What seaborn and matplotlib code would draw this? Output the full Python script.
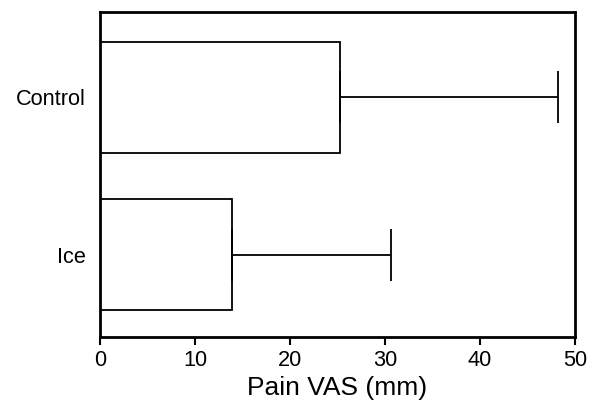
import matplotlib
matplotlib.use("Agg")
import matplotlib.pyplot as plt
import seaborn as sns
import pandas as pd

categories = ["Control", "Ice"]
means = [25.3, 13.9]
sd_upper = [48.25, 30.6]
x_ticks = [0, 10, 20, 30, 40, 50]
x_label = "Pain VAS (mm)"

sns.set_style("white")
plt.rcParams['font.family'] = ['Liberation Sans', 'DejaVu Sans']
plt.rcParams['text.color'] = 'black'
plt.rcParams['axes.labelcolor'] = 'black'
plt.rcParams['xtick.color'] = 'black'
plt.rcParams['ytick.color'] = 'black'

df = pd.DataFrame({"group": categories, "vas": means})

fig = plt.figure(figsize=(5.99, 4.08), dpi=100)
ax = fig.add_axes([100/599, 1-337/408, 475/599, 325/408])

sns.barplot(data=df, y="group", x="vas", orient="h", ax=ax,
            color="white", edgecolor="black", linewidth=1.3, width=0.705,
            errorbar=None)

errs = [u - m for u, m in zip(sd_upper, means)]
ax.errorbar(means, range(len(categories)), xerr=[[0]*len(errs), errs],
            fmt="none", ecolor="black", elinewidth=1.3, capsize=18.7, capthick=1.3)

ax.set_xlim(0, 50)
ax.set_ylim(1.522, -0.543)
ax.set_xticks(x_ticks)
ax.set_xticklabels([str(t) for t in x_ticks])
ax.set_xlabel(x_label, fontsize=19, labelpad=4)
ax.set_ylabel("")
ax.tick_params(axis="x", direction="out", length=6, width=1.5, labelsize=15.7, pad=3, bottom=True,
               colors="black")
ax.tick_params(axis="y", length=0, labelsize=15.7, pad=10, colors="black")
for s in ax.spines.values():
    s.set_visible(True)
    s.set_linewidth(2)
    s.set_color("black")

fig.savefig("out.png", dpi=100, facecolor="white")
